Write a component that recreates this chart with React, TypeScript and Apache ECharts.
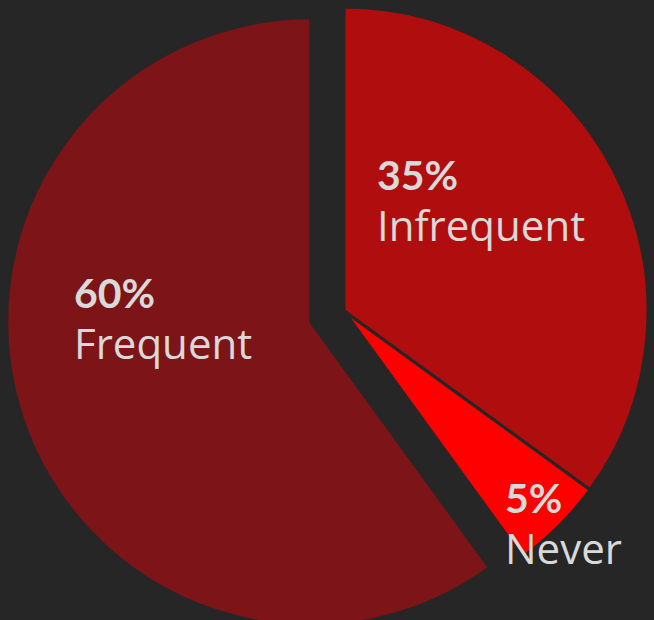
import React, { useEffect, useRef } from "react";
import * as echarts from "echarts";

const categories = ["Infrequent", "Never", "Frequent"];
const values = [35, 5, 60];
const colors = ["#B00E0E", "#FF0000", "#7D1518"];
const exploded = [false, false, true];
// label anchor (top-left) for each slice label, in pixels
const labelX = [377, 505, 74];
const labelY = [149, 472, 267];

const CX = 344;
const CY = 311;
const R = 304;
const OFFSET = 35;

export default function App() {
  const ref = useRef<HTMLDivElement>(null);
  useEffect(() => {
    document.body.style.margin = "0";
    document.body.style.background = "#262626";
    const chart = echarts.init(ref.current!, null, { renderer: "svg" });

    // offset direction of the exploded slice, from its mid-angle
    const total = values.reduce((a, b) => a + b, 0);
    let cum = 0;
    let dx = 0;
    let dy = 0;
    values.forEach((v, i) => {
      const mid = ((cum + v / 2) / total) * Math.PI * 2;
      if (exploded[i]) {
        dx = Math.sin(mid) * OFFSET;
        dy = -Math.cos(mid) * OFFSET;
      }
      cum += v;
    });

    const labelOpt = {
      show: true,
      position: "inside",
      formatter: "{p|{c}%}\n{n|{b}}",
      color: "#D9D9D9",
      rich: {
        p: { fontSize: 41, fontWeight: "bold", lineHeight: 50, color: "#D9D9D9", fontFamily: "Lato" },
        n: { fontSize: 42, fontWeight: "normal", lineHeight: 50, color: "#D9D9D9", fontFamily: "Open Sans" },
      },
    };

    const makeSeries = (showExploded: boolean, center: number[]) => ({
      type: "pie",
      center,
      radius: R,
      startAngle: 90,
      clockwise: true,
      silent: true,
      emphasis: { disabled: true },
      labelLine: { show: false },
      label: labelOpt,
      labelLayout: (params: any) => ({
        x: labelX[params.dataIndex],
        y: labelY[params.dataIndex],
        align: "left",
        verticalAlign: "top",
      }),
      data: categories.map((name, i) => {
        const visible = exploded[i] === showExploded;
        return {
          name,
          value: values[i],
          label: { show: visible },
          itemStyle: visible
            ? { color: colors[i], borderColor: "#262626", borderWidth: 3 }
            : { color: "rgba(0,0,0,0)", borderWidth: 0 },
        };
      }),
    });

    chart.setOption({
      animation: false,
      backgroundColor: "#262626",
      series: [makeSeries(false, [CX, CY]), makeSeries(true, [CX + dx, CY + dy])],
    });
    return () => chart.dispose();
  }, []);
  return <div ref={ref} style={{ width: 654, height: 620 }} />;
}
